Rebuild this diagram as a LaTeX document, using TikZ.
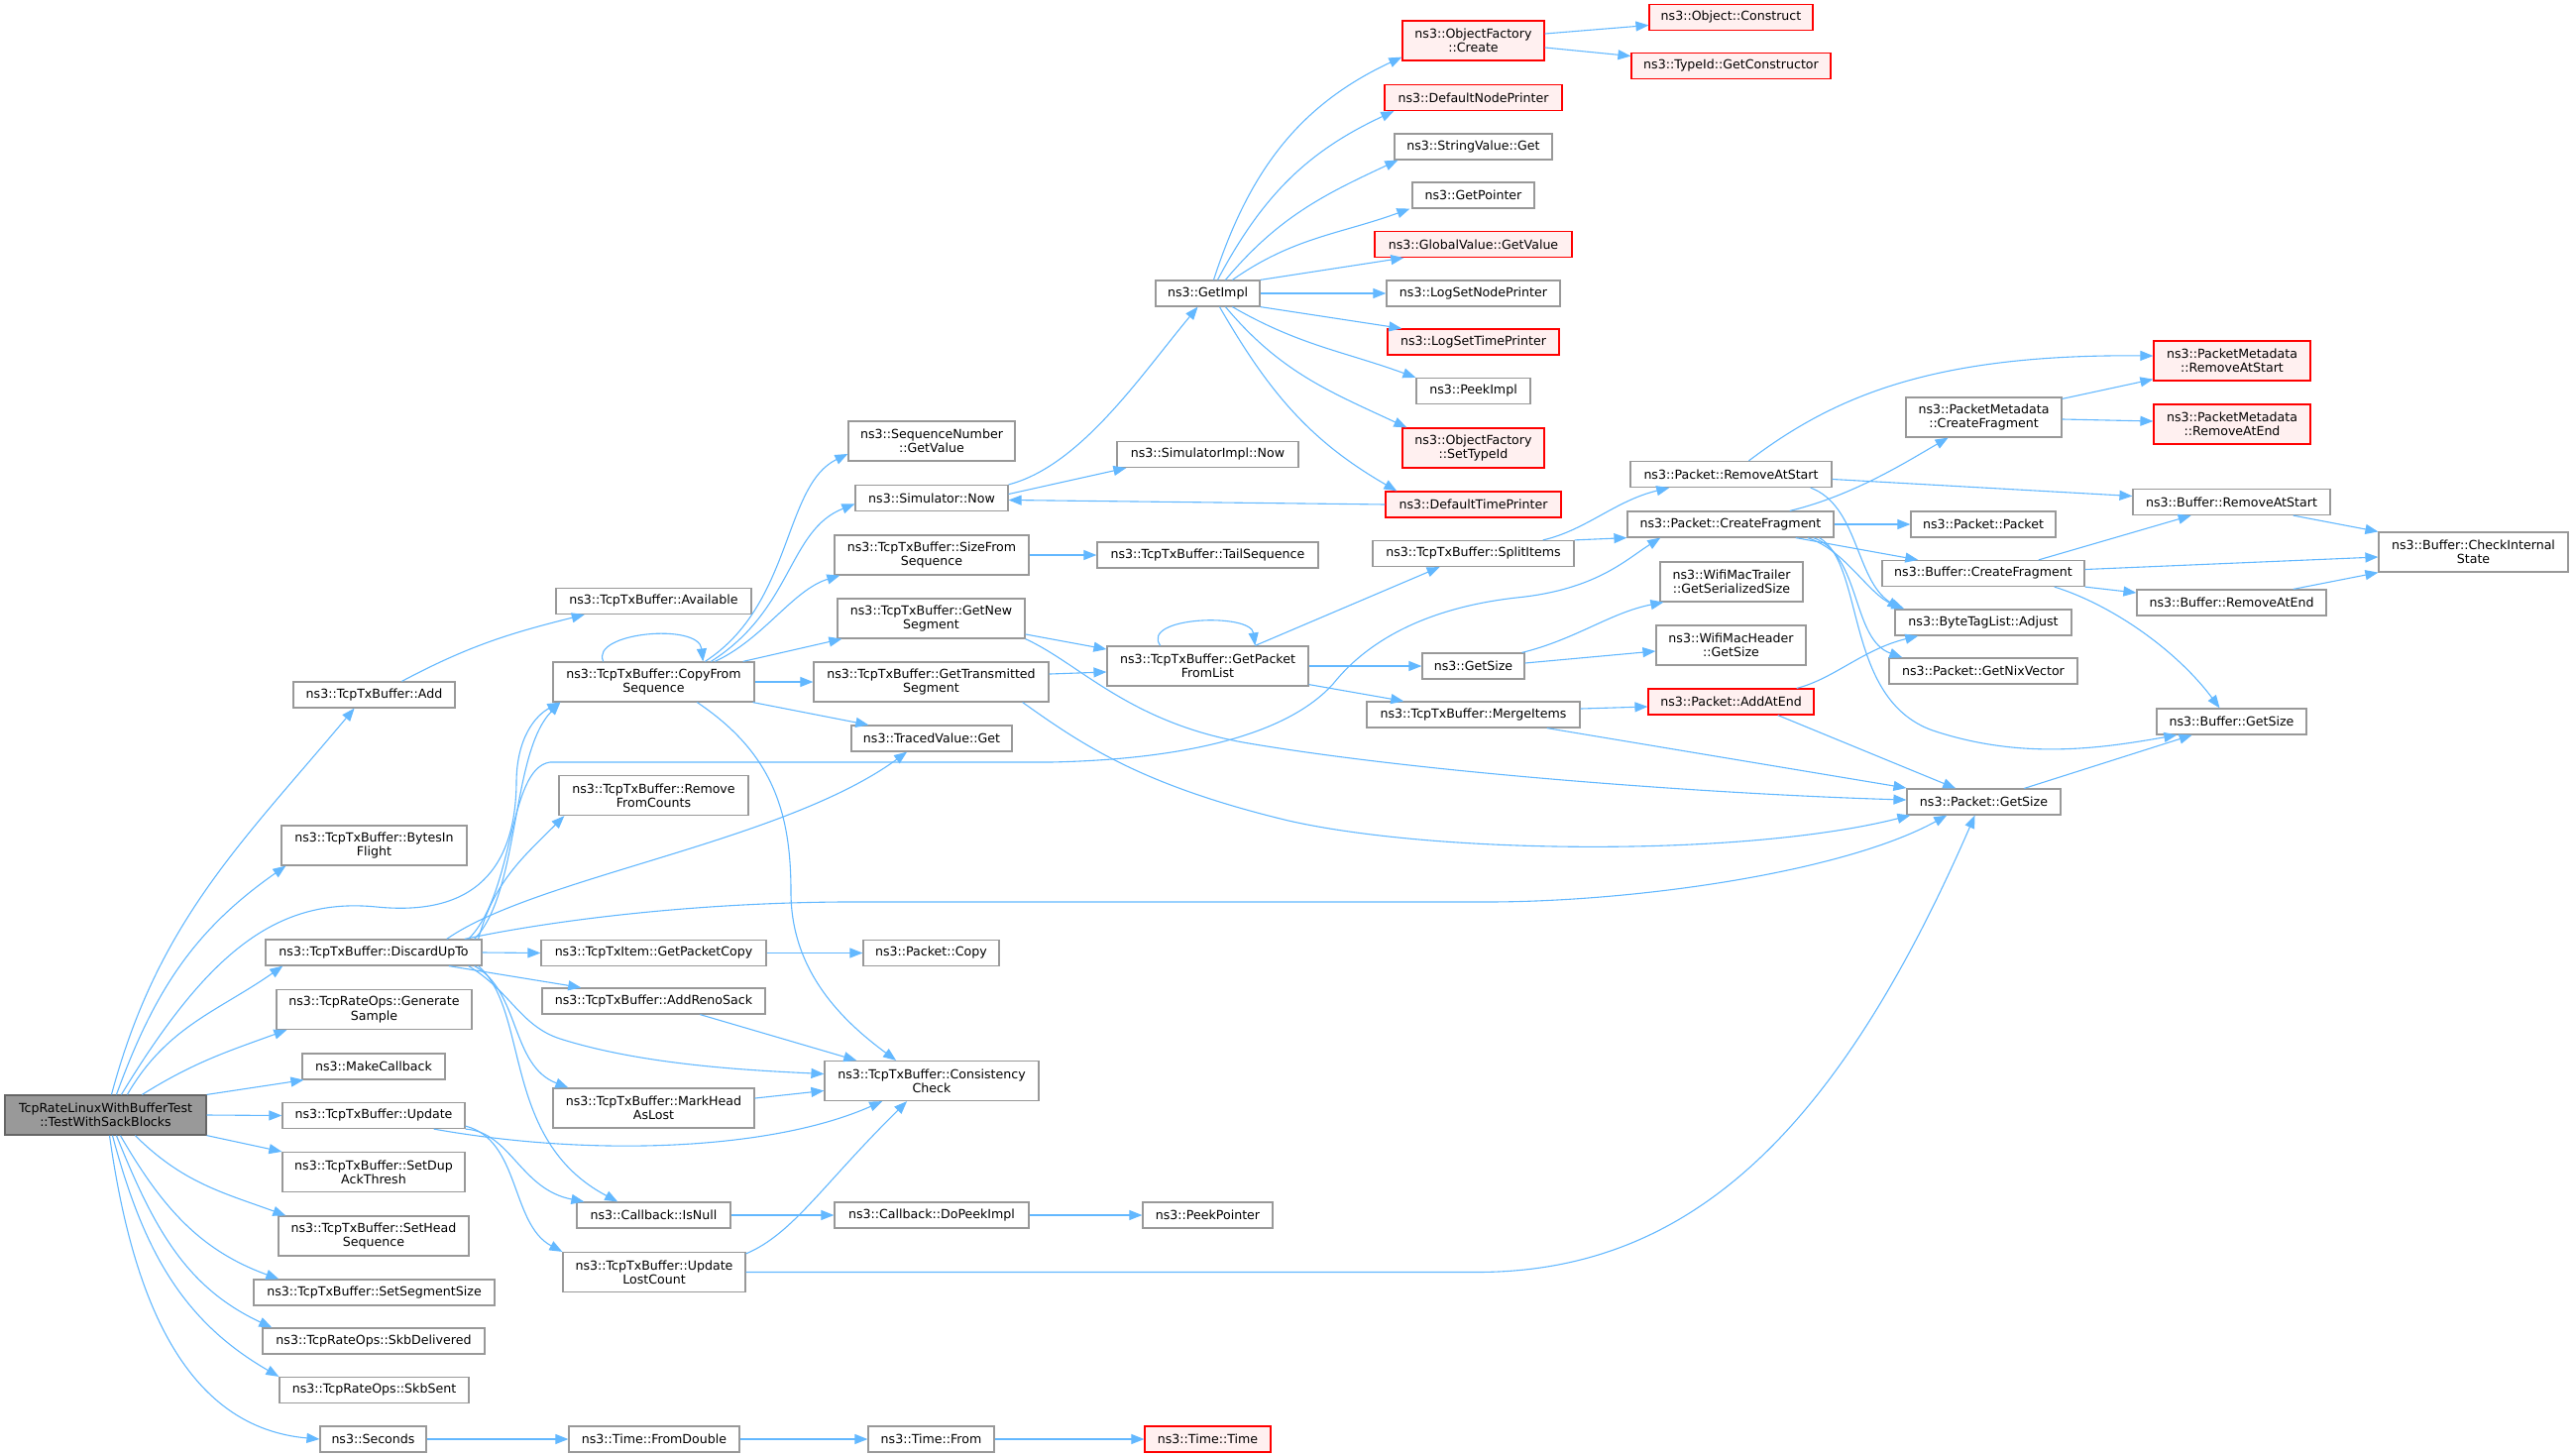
\documentclass[tikz,border=0pt]{standalone}
\usepackage{fontspec}
\setmainfont{DejaVu Sans}
\usetikzlibrary{arrows.meta}
\definecolor{edgeblue}{HTML}{63B8FF}
\definecolor{boxgray}{HTML}{999999}
\definecolor{rootfill}{HTML}{999999}
\definecolor{rootline}{HTML}{666666}
\definecolor{extfill}{HTML}{FFF0F0}
\definecolor{extline}{HTML}{FF0000}

\begin{document}
\begin{tikzpicture}[x=1bp,y=1bp,
  fn/.style={draw=boxgray,fill=white,line width=1.2bp,minimum height=26bp,inner sep=2bp,
    align=center,font=\fontsize{12.6bp}{14.3bp}\selectfont},
  tall/.style={minimum height=40bp},
  ext/.style={draw=extline,fill=extfill},
  root/.style={fn,tall,fill=rootfill,draw=rootline},
  call/.style={draw=edgeblue,line width=1.1bp,-{Triangle[length=13bp,width=10bp,fill=edgeblue]}},
  links/.style={every edge/.style={call}}]
\useasboundingbox (0,0) rectangle (2597,-1469);

% caller
\node[root,minimum width=203bp] (main) at (106.5,-1125) {TcpRateLinuxWithBufferTest\\::TestWithSackBlocks};

% first level
\node[fn,minimum width=163bp] (add) at (377.5,-701) {ns3::TcpTxBuffer::Add};
\node[fn,tall,minimum width=187bp] (bytes) at (377.5,-853) {ns3::TcpTxBuffer::BytesIn\\Flight};
\node[fn,minimum width=218bp] (discard) at (377,-961) {ns3::TcpTxBuffer::DiscardUpTo};
\node[fn,tall,minimum width=197bp] (gensample) at (377.5,-1018.5) {ns3::TcpRateOps::Generate\\Sample};
\node[fn,minimum width=144bp] (makecb) at (377,-1076) {ns3::MakeCallback};
\node[fn,minimum width=184bp] (update) at (377,-1125.5) {ns3::TcpTxBuffer::Update};
\node[fn,tall,minimum width=184bp] (dupack) at (377,-1182.5) {ns3::TcpTxBuffer::SetDup\\AckThresh};
\node[fn,tall,minimum width=192bp] (headseq) at (377,-1247) {ns3::TcpTxBuffer::SetHead\\Sequence};
\node[fn,minimum width=243bp] (segsize) at (377.5,-1304) {ns3::TcpTxBuffer::SetSegmentSize};
\node[fn,minimum width=224bp] (skbdel) at (377,-1353) {ns3::TcpRateOps::SkbDelivered};
\node[fn,minimum width=191bp] (skbsent) at (377.5,-1402.5) {ns3::TcpRateOps::SkbSent};
\node[fn,minimum width=107bp] (seconds) at (376.5,-1452) {ns3::Seconds};

% second level
\node[fn,minimum width=197bp] (avail) at (659.5,-606.5) {ns3::TcpTxBuffer::Available};
\node[fn,tall,minimum width=203bp] (copyseq) at (659.5,-688) {ns3::TcpTxBuffer::CopyFrom\\Sequence};
\node[fn,tall,minimum width=191bp] (remcounts) at (659.5,-802.5) {ns3::TcpTxBuffer::Remove\\FromCounts};
\node[fn,minimum width=227bp] (pktcopy) at (659.5,-961.5) {ns3::TcpTxItem::GetPacketCopy};
\node[fn,minimum width=225bp] (renosack) at (659.5,-1010) {ns3::TcpTxBuffer::AddRenoSack};
\node[fn,tall,minimum width=203bp] (markhead) at (659.5,-1118) {ns3::TcpTxBuffer::MarkHead\\AsLost};
\node[fn,minimum width=155bp] (isnull) at (659.5,-1226) {ns3::Callback::IsNull};
\node[fn,tall,minimum width=184bp] (lostcount) at (660,-1283.5) {ns3::TcpTxBuffer::Update\\LostCount};
\node[fn,minimum width=172bp] (fromdouble) at (660,-1452) {ns3::Time::FromDouble};

% third level
\node[fn,tall,minimum width=168bp] (seqval) at (940,-445) {ns3::SequenceNumber\\::GetValue};
\node[fn,minimum width=154bp] (simnow) at (940,-502.5) {ns3::Simulator::Now};
\node[fn,tall,minimum width=196bp] (sizeseq) at (940,-560) {ns3::TcpTxBuffer::SizeFrom\\Sequence};
\node[fn,tall,minimum width=189bp] (newseg) at (939.5,-624) {ns3::TcpTxBuffer::GetNew\\Segment};
\node[fn,tall,minimum width=237bp] (txseg) at (939.5,-688) {ns3::TcpTxBuffer::GetTransmitted\\Segment};
\node[fn,minimum width=162bp] (traced) at (940,-745) {ns3::TracedValue::Get};
\node[fn,minimum width=137bp] (pcopy) at (939.5,-961.5) {ns3::Packet::Copy};
\node[fn,tall,minimum width=216bp] (consist) at (940,-1090.5) {ns3::TcpTxBuffer::Consistency\\Check};
\node[fn,minimum width=196bp] (dopeek) at (940,-1226) {ns3::Callback::DoPeekImpl};
\node[fn,minimum width=127bp] (tfrom) at (939.5,-1452) {ns3::Time::From};

% fourth level
\node[fn,minimum width=105bp] (getimpl) at (1218.5,-296) {ns3::GetImpl};
\node[fn,minimum width=183bp] (simimpl) at (1218.5,-458.5) {ns3::SimulatorImpl::Now};
\node[fn,minimum width=223bp] (tailseq) at (1218.5,-560) {ns3::TcpTxBuffer::TailSequence};
\node[fn,tall,minimum width=203bp] (pktlist) at (1218.5,-672) {ns3::TcpTxBuffer::GetPacket\\FromList};
\node[fn,minimum width=131bp] (peekptr) at (1218.5,-1226) {ns3::PeekPointer};
\node[fn,ext,minimum width=127bp] (ttime) at (1218.5,-1452) {ns3::Time::Time};

% fifth level
\node[fn,ext,tall,minimum width=143bp] (ofcreate) at (1486.5,-41) {ns3::ObjectFactory\\::Create};
\node[fn,ext,minimum width=179bp] (nodeprinter) at (1486.5,-98.5) {ns3::DefaultNodePrinter};
\node[fn,minimum width=159bp] (strget) at (1486.5,-148) {ns3::StringValue::Get};
\node[fn,minimum width=123bp] (getptr) at (1486.5,-197) {ns3::GetPointer};
\node[fn,ext,minimum width=199bp] (gvget) at (1486.5,-246.5) {ns3::GlobalValue::GetValue};
\node[fn,minimum width=175bp] (lognode) at (1486.5,-296) {ns3::LogSetNodePrinter};
\node[fn,ext,minimum width=173bp] (logtime) at (1486.5,-345) {ns3::LogSetTimePrinter};
\node[fn,minimum width=115bp] (peekimpl) at (1486.5,-394.5) {ns3::PeekImpl};
\node[fn,ext,tall,minimum width=143bp] (settype) at (1486.5,-452) {ns3::ObjectFactory\\::SetTypeId};
\node[fn,ext,minimum width=177bp] (timeprinter) at (1486.5,-509) {ns3::DefaultTimePrinter};
\node[fn,minimum width=203bp] (split) at (1486.5,-558.5) {ns3::TcpTxBuffer::SplitItems};
\node[fn,minimum width=103bp] (getsize) at (1486.5,-672) {ns3::GetSize};
\node[fn,minimum width=215bp] (merge) at (1486.5,-721) {ns3::TcpTxBuffer::MergeItems};

% sixth level
\node[fn,ext,minimum width=165bp] (construct) at (1746.5,-17.5) {ns3::Object::Construct};
\node[fn,ext,minimum width=201bp] (getctor) at (1746.5,-66.5) {ns3::TypeId::GetConstructor};
\node[fn,minimum width=203bp] (premstart) at (1746.5,-478.5) {ns3::Packet::RemoveAtStart};
\node[fn,minimum width=208bp] (pcreatefrag) at (1746,-529) {ns3::Packet::CreateFragment};
\node[fn,tall,minimum width=144bp] (trailer) at (1747,-587) {ns3::WifiMacTrailer\\::GetSerializedSize};
\node[fn,tall,minimum width=151bp] (header) at (1746.5,-651) {ns3::WifiMacHeader\\::GetSize};
\node[fn,ext,minimum width=167bp] (addatend) at (1746.5,-708) {ns3::Packet::AddAtEnd};

% seventh level
\node[fn,tall,minimum width=157bp] (pmcreate) at (2001.5,-421) {ns3::PacketMetadata\\::CreateFragment};
\node[fn,minimum width=146bp] (ppacket) at (2001,-529) {ns3::Packet::Packet};
\node[fn,minimum width=204bp] (bcreate) at (2001,-578.5) {ns3::Buffer::CreateFragment};
\node[fn,minimum width=178bp] (adjust) at (2001,-628) {ns3::ByteTagList::Adjust};
\node[fn,minimum width=190bp] (nixvec) at (2001,-677) {ns3::Packet::GetNixVector};
\node[fn,minimum width=155bp] (pgetsize) at (2001.5,-809) {ns3::Packet::GetSize};

% eighth level
\node[fn,ext,tall,minimum width=158bp] (pmstart) at (2252,-364) {ns3::PacketMetadata\\::RemoveAtStart};
\node[fn,ext,tall,minimum width=158bp] (pmend) at (2252,-428) {ns3::PacketMetadata\\::RemoveAtEnd};
\node[fn,minimum width=199bp] (bremstart) at (2251.5,-506.5) {ns3::Buffer::RemoveAtStart};
\node[fn,minimum width=191bp] (bremend) at (2251.5,-608) {ns3::Buffer::RemoveAtEnd};
\node[fn,minimum width=151bp] (bgetsize) at (2251.5,-728) {ns3::Buffer::GetSize};
\node[fn,tall,minimum width=191bp] (checkstate) at (2495.5,-557) {ns3::Buffer::CheckInternal\\State};

% calls from the test
\path[links]
([xshift=6]main.north) edge[out=75,in=230] ([xshift=-20]add.south)
([xshift=11]main.north) edge[out=70,in=215] ([xshift=5]bytes.south west)
([xshift=22]main.north) edge[out=60,in=215] ([xshift=18]discard.south west)
([xshift=37]main.north) edge[out=32,in=200] ([xshift=11]gensample.south west)
(main.north east) edge ([xshift=2]makecb.south west)
(main.east) edge (update.west)
(main.south east) edge (dupack.north west)
([xshift=30]main.south) edge[out=-45,in=160] ([xshift=8]headseq.north west)
([xshift=15]main.south) edge[out=-60,in=160] ([xshift=26]segsize.north west)
([xshift=11]main.south) edge[out=-68,in=155] ([xshift=10]skbdel.north west)
([xshift=7]main.south) edge[out=-75,in=150] (skbsent.north west)
([xshift=4]main.south) edge[out=-82,in=175] (seconds.west);
\draw[call] ([xshift=16]main.north) .. controls (210,-960) and (280,-905) .. (380,-915)
  .. controls (480,-925) and (520,-875) .. (521,-790) .. controls (521,-745) and (540,-722) .. ([xshift=8]copyseq.south west);

% first level calls
\path[links] ([xshift=28]add.north) edge[out=28,in=194] ([xshift=-70]avail.south);
\draw[call] ([xshift=-8]discard.north east) .. controls (525,-900) and (515,-760) .. ([xshift=8]copyseq.south west);
\path[links] ([xshift=-4]discard.north east) edge[out=75,in=225] ([xshift=6]remcounts.south west);
\draw[call] ([xshift=-36]discard.north east) .. controls (540,-885) and (790,-850) .. ([xshift=-25]traced.south);
\draw[call] ([xshift=-14]discard.north east) .. controls (520,-900) and (512,-775) .. (555,-769) -- (1060,-769)
  .. controls (1200,-766) and (1300,-740) .. (1345,-690) .. controls (1385,-640) and (1450,-612) .. (1530,-603)
  .. controls (1610,-595) and (1640,-565) .. ([xshift=34]pcreatefrag.south west);
\draw[call] ([xshift=-18]discard.north east) .. controls (560,-928) and (700,-911) .. (850,-910) -- (1500,-910)
  .. controls (1650,-910) and (1860,-880) .. ([xshift=41]pgetsize.south west);
\path[links] (discard.east) edge (pktcopy.west)
([xshift=-34]discard.south east) edge ([xshift=40]renosack.north west);
\draw[call] ([xshift=-14]discard.south east) .. controls (515,-1000) and (525,-1035) .. (565,-1048)
  .. controls (650,-1075) and (760,-1080) .. ([yshift=7]consist.west);
\draw[call] ([xshift=-8]discard.south east) .. controls (525,-1000) and (515,-1075) .. ([xshift=16]markhead.north west);
\draw[call] ([xshift=-4]discard.south east) .. controls (535,-1020) and (505,-1150) .. ([xshift=42]isnull.north west);
\draw[call] (update.south east) .. controls (515,-1142) and (525,-1200) .. ([xshift=8]isnull.north west);
\draw[call] ([yshift=3]update.south east) .. controls (525,-1150) and (515,-1235) .. (lostcount.north west);
\draw[call] ([xshift=-32]update.south east) .. controls (600,-1168) and (780,-1160) .. ([xshift=-50]consist.south);

% second level calls
\draw[call] ([xshift=-51]copyseq.north) .. controls (595,-638) and (705,-628) .. ([xshift=50]copyseq.north);
\draw[call] ([xshift=52]copyseq.north) .. controls (800,-610) and (790,-490) .. ([yshift=-13]seqval.west);
\draw[call] ([xshift=58]copyseq.north) .. controls (800,-615) and (795,-535) .. ([yshift=-6]simnow.west);
\draw[call] ([xshift=62]copyseq.north) .. controls (770,-645) and (800,-595) .. ([xshift=6]sizeseq.south west);
\path[links] ([xshift=-12]copyseq.north east) edge ([xshift=5]newseg.south west)
(copyseq.east) edge (txseg.west)
([xshift=-2]copyseq.south east) edge ([xshift=18]traced.north west);
\draw[call] ([xshift=44]copyseq.south) .. controls (780,-760) and (798,-820) .. (798,-900)
  .. controls (798,-980) and (850,-1030) .. ([xshift=-36]consist.north);
\draw[call] ([yshift=-2]lostcount.north east) .. controls (800,-1245) and (830,-1195) .. ([xshift=-25]consist.south);
\draw[call] (lostcount.east) -- (1490,-1283.5) .. controls (1700,-1283.5) and (1850,-1150) .. ([xshift=-9]pgetsize.south);
\path[links] ([xshift=47]renosack.south) edge ([xshift=33]consist.north west)
([yshift=10]markhead.east) edge ([yshift=-10]consist.west)
(isnull.east) edge (dopeek.west)
(dopeek.east) edge (peekptr.west)
(pktcopy.east) edge (pcopy.west)
(seconds.east) edge (fromdouble.west)
(fromdouble.east) edge (tfrom.west)
(tfrom.east) edge (ttime.west);

% third level calls
\draw[call] (simnow.north east) .. controls (1090,-470) and (1150,-380) .. ([xshift=-10]getimpl.south);
\path[links] ([yshift=4]simnow.east) edge ([xshift=10]simimpl.south west)
(timeprinter.west) edge ([yshift=-2]simnow.east)
(sizeseq.east) edge (tailseq.west)
([yshift=-16]newseg.east) edge ([yshift=17]pktlist.west)
([yshift=8]txseg.east) edge ([yshift=-6]pktlist.west);
\draw[call] (newseg.south east) .. controls (1090,-670) and (1140,-730) .. (1260,-750)
  .. controls (1450,-782) and (1750,-802) .. ([yshift=2]pgetsize.west);
\draw[call] ([xshift=-27]txseg.south east) .. controls (1090,-750) and (1150,-792) .. (1300,-828)
  .. controls (1450,-862) and (1760,-865) .. ([xshift=4]pgetsize.south west);

% GetImpl
\path[links]
([xshift=6]getimpl.north) edge[out=72,in=205] ([yshift=4]ofcreate.south west)
([xshift=10]getimpl.north) edge[out=62,in=205] ([xshift=10]nodeprinter.south west)
([xshift=18]getimpl.north) edge[out=50,in=205] ([xshift=4]strget.south west)
([xshift=25]getimpl.north) edge[out=35,in=200] ([xshift=-2]getptr.south west)
(getimpl.north east) edge ([xshift=30]gvget.south west)
(getimpl.east) edge (lognode.west)
(getimpl.south east) edge ([xshift=15]logtime.north west)
([xshift=25]getimpl.south) edge[out=-30,in=160] (peekimpl.north west)
([xshift=18]getimpl.south) edge[out=-50,in=155] ([xshift=5]settype.north west)
([xshift=12]getimpl.south) edge[out=-60,in=150] ([xshift=12]timeprinter.north west)
([yshift=7]ofcreate.east) edge ([yshift=-8]construct.west)
([yshift=-7]ofcreate.east) edge ([yshift=10]getctor.west);

% packet list
\draw[call] ([xshift=-48]pktlist.north) .. controls (1150,-622) and (1262,-618) .. ([xshift=48]pktlist.north);
\path[links] ([xshift=48]pktlist.north) edge ([xshift=-34]split.south)
(pktlist.east) edge (getsize.west)
([yshift=2]pktlist.south east) edge ([xshift=38]merge.north west)
(split.north east) edge (pcreatefrag.south west)
([yshift=3]getsize.east) edge ([yshift=-6]header.west)
([yshift=6]merge.east) edge ([yshift=-5]addatend.west)
([xshift=-34]merge.south east) edge ([yshift=14]pgetsize.west)
([xshift=-37]addatend.south east) edge ([xshift=50]pgetsize.north west);
\draw[call] ([xshift=-32]split.north east) .. controls (1600,-535) and (1630,-505) .. ([xshift=40]premstart.south west);
\draw[call] ([xshift=-3]getsize.north east) .. controls (1590,-645) and (1625,-618) .. ([xshift=4]trailer.south west);
\draw[call] ([xshift=-18]addatend.north east) .. controls (1850,-685) and (1880,-655) .. ([xshift=24]adjust.south west);

% packet
\draw[call] ([xshift=18]premstart.north) .. controls (1850,-400) and (1950,-357) .. ([yshift=5]pmstart.west);
\draw[call] ([xshift=-22]premstart.south east) .. controls (1875,-510) and (1872,-585) .. ([xshift=6]adjust.north west);
\draw[call] ([xshift=60]pcreatefrag.north) .. controls (1870,-500) and (1925,-465) .. ([xshift=-36]pmcreate.south);
\draw[call] ([xshift=78]pcreatefrag.south) .. controls (1862,-555) and (1885,-600) .. ([xshift=10]adjust.north west);
\draw[call] ([xshift=84]pcreatefrag.south) .. controls (1878,-560) and (1868,-645) .. ([xshift=14]nixvec.north west);
\draw[call] ([xshift=90]pcreatefrag.south) .. controls (1882,-570) and (1860,-705) .. (1950,-737)
  .. controls (2040,-767) and (2120,-755) .. ([xshift=21]bgetsize.south west);
\path[links] ([yshift=-5]premstart.east) edge ([yshift=6]bremstart.west)
(pcreatefrag.east) edge (ppacket.west)
([xshift=66]pcreatefrag.south) edge ([xshift=37]bcreate.north west)
([yshift=-2]pmcreate.north east) edge ([yshift=2]pmstart.south west)
([yshift=-2]pmcreate.east) edge ([yshift=3]pmend.west)
([xshift=56]bcreate.north) edge ([xshift=-41]bremstart.south)
([yshift=4]bcreate.east) edge ([yshift=-5]checkstate.west)
(bcreate.south east) edge ([yshift=10]bremend.west)
([xshift=-38]bremstart.south east) edge (checkstate.north west)
([xshift=-34]bremend.north east) edge (checkstate.south west)
([xshift=41]pgetsize.north) edge ([xshift=-40]bgetsize.south);
\draw[call] ([xshift=72]bcreate.south) .. controls (2130,-610) and (2195,-655) .. ([xshift=-12]bgetsize.north);
\end{tikzpicture}
\end{document}
